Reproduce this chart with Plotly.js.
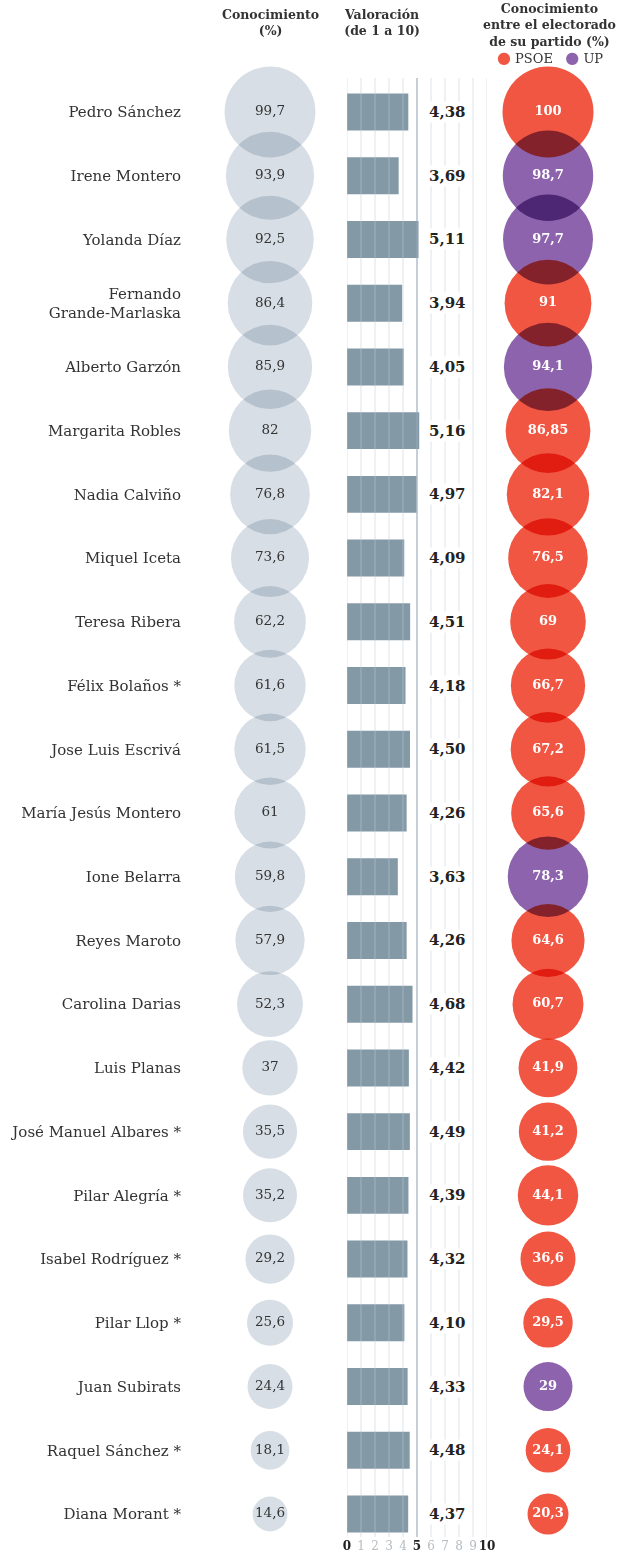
<!DOCTYPE html>
<html>
<head>
<meta charset="utf-8">
<script src="https://cdn.plot.ly/plotly-3.0.1.min.js"></script>
<style>
  html, body { margin: 0; padding: 0; background: #fff; }
  #chart .scatterlayer .points path { mix-blend-mode: multiply; }
</style>
</head>
<body>
<div id="chart" style="width:624px;height:1553px;"></div>
<script>
const names = [
  'Pedro Sánchez', 'Irene Montero', 'Yolanda Díaz', 'Fernando<br>Grande-Marlaska',
  'Alberto Garzón', 'Margarita Robles', 'Nadia Calviño', 'Miquel Iceta',
  'Teresa Ribera', 'Félix Bolaños *', 'Jose Luis Escrivá', 'María Jesús Montero',
  'Ione Belarra', 'Reyes Maroto', 'Carolina Darias', 'Luis Planas',
  'José Manuel Albares *', 'Pilar Alegría *', 'Isabel Rodríguez *', 'Pilar Llop *',
  'Juan Subirats', 'Raquel Sánchez *', 'Diana Morant *'
];
const knowledge = [99.7, 93.9, 92.5, 86.4, 85.9, 82, 76.8, 73.6, 62.2, 61.6, 61.5, 61,
  59.8, 57.9, 52.3, 37, 35.5, 35.2, 29.2, 25.6, 24.4, 18.1, 14.6];
const rating = [4.38, 3.69, 5.11, 3.94, 4.05, 5.16, 4.97, 4.09, 4.51, 4.18, 4.50, 4.26,
  3.63, 4.26, 4.68, 4.42, 4.49, 4.39, 4.32, 4.10, 4.33, 4.48, 4.37];
const partyKnowledge = [100, 98.7, 97.7, 91, 94.1, 86.85, 82.1, 76.5, 69, 66.7, 67.2, 65.6,
  78.3, 64.6, 60.7, 41.9, 41.2, 44.1, 36.6, 29.5, 29, 24.1, 20.3];
const party = ['PSOE', 'UP', 'UP', 'PSOE', 'UP', 'PSOE', 'PSOE', 'PSOE', 'PSOE', 'PSOE', 'PSOE', 'PSOE',
  'UP', 'PSOE', 'PSOE', 'PSOE', 'PSOE', 'PSOE', 'PSOE', 'PSOE', 'UP', 'PSOE', 'PSOE'];
const tickVals = [0, 1, 2, 3, 4, 5, 6, 7, 8, 9, 10];
const tickLabels = ['0', '1', '2', '3', '4', '5', '6', '7', '8', '9', '10'];
const majorTicks = ['0', '5', '10'];
const partyNames = ['PSOE', 'UP'];
const partyColorList = ['#f05641', '#8c63ac'];

const W = 624, H = 1553, T = 78, B = 16;
const plotH = H - T - B;
const rowPx = (1514 - 112) / (names.length - 1);
const yTop = -(112 - T) / rowPx;
const yBottom = (names.length - 1) + (H - B - 1514) / rowPx;
const px = v => v / W;
const py = v => 1 + (T - v) / plotH;

const fmt = v => String(v).replace('.', ',');
const colorOf = p => partyColorList[partyNames.indexOf(p)];
const maxD = 91;
const sizeref = 2 * 100 / (maxD * maxD);
const serif = 'DejaVu Serif';

const traces = [
  {
    type: 'scatter', mode: 'markers+text', xaxis: 'x', yaxis: 'y',
    x: names.map(() => 0), y: names,
    marker: { size: knowledge, sizemode: 'area', sizeref: sizeref, color: '#d7dee5', opacity: 1, line: { width: 0 } },
    text: knowledge.map(fmt), textposition: 'middle center',
    textfont: { family: serif, size: 13.5, color: '#333' },
    cliponaxis: false, hoverinfo: 'skip'
  },
  {
    type: 'bar', orientation: 'h', xaxis: 'x2', yaxis: 'y',
    x: rating, y: names, width: 0.58,
    marker: { color: '#8499a6', line: { width: 0 } },
    hoverinfo: 'skip'
  },
  {
    type: 'scatter', mode: 'markers+text', xaxis: 'x3', yaxis: 'y',
    x: names.map(() => 0), y: names,
    marker: { size: partyKnowledge, sizemode: 'area', sizeref: sizeref, color: party.map(colorOf), opacity: 1, line: { width: 0 } },
    text: partyKnowledge.map(fmt), textposition: 'middle center',
    textfont: { family: serif, size: 13, color: '#fff', weight: 700 },
    cliponaxis: false, hoverinfo: 'skip'
  }
];

const shapes = tickVals.map(v => ({
  type: 'line', xref: 'x2', yref: 'paper', x0: v, x1: v, y0: 0, y1: 1, layer: 'above',
  line: v === 5 ? { color: 'rgba(150,168,185,0.55)', width: 2 } : { color: 'rgba(190,203,215,0.52)', width: 1 }
}));

const annotations = rating.map((v, i) => ({
  xref: 'x2', yref: 'y', x: 7.15, y: names[i],
  text: v.toFixed(2).replace('.', ','), showarrow: false,
  font: { family: serif, size: 15, color: '#222', weight: 700 },
  bgcolor: '#ffffff', borderpad: 1
}));

const headFont = { family: serif, size: 12.5, color: '#333', weight: 700 };
annotations.push(
  { xref: 'paper', yref: 'paper', x: px(270), y: py(5), yanchor: 'top', xanchor: 'center',
    text: 'Conocimiento<br>(%)', showarrow: false, font: headFont },
  { xref: 'paper', yref: 'paper', x: px(382), y: py(5), yanchor: 'top', xanchor: 'center',
    text: 'Valoración<br>(de 1 a 10)', showarrow: false, font: headFont },
  { xref: 'paper', yref: 'paper', x: px(549), y: py(-1), yanchor: 'top', xanchor: 'center',
    text: 'Conocimiento<br>entre el electorado<br>de su partido (%)', showarrow: false, font: headFont },
  { xref: 'paper', yref: 'paper', x: px(550), y: py(58), yanchor: 'middle', xanchor: 'center',
    text: partyNames.map((p, i) => '<span style="color:' + partyColorList[i] + ';font-size:16px">●</span> ' + p).join('   '),
    showarrow: false, font: { family: serif, size: 13, color: '#333' } }
);

const layout = {
  width: W, height: H,
  margin: { l: 0, r: 0, t: T, b: B, pad: 0 },
  paper_bgcolor: '#ffffff', plot_bgcolor: 'rgba(0,0,0,0)',
  showlegend: false, barmode: 'overlay',
  font: { family: serif, color: '#333' },
  xaxis: { domain: [px(225), px(315)], range: [-1, 1], visible: false, fixedrange: true },
  xaxis2: {
    domain: [px(347), px(487)], range: [0, 10], anchor: 'y',
    tickvals: tickVals, tickangle: 0,
    ticktext: tickLabels.map(t => majorTicks.includes(t) ? '<b>' + t + '</b>' : '<span style="color:#b5bcc2">' + t + '</span>'),
    showgrid: false, zeroline: false, showline: false, ticks: '', ticklabelstandoff: 0,
    tickfont: { family: serif, size: 12, color: '#222' }, fixedrange: true
  },
  xaxis3: { domain: [px(503), px(593)], range: [-1, 1], visible: false, fixedrange: true },
  yaxis: {
    type: 'category', range: [yBottom, yTop], anchor: 'free', position: px(181),
    showgrid: false, zeroline: false, showline: false, ticks: '',
    tickfont: { family: serif, size: 15, color: '#333' }, fixedrange: true
  },
  shapes: shapes,
  annotations: annotations
};

Plotly.newPlot('chart', traces, layout, { displayModeBar: false, staticPlot: true });
</script>
</body>
</html>
